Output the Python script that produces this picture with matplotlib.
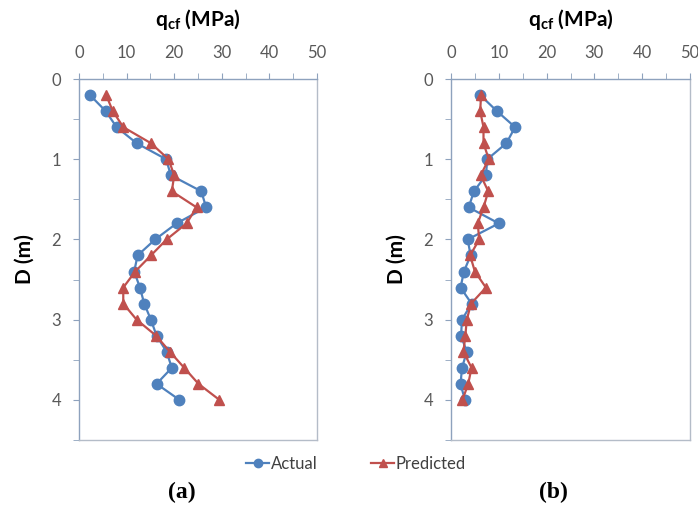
import numpy as np
import matplotlib
matplotlib.use("Agg")
from matplotlib import pyplot as plt
from matplotlib.ticker import MultipleLocator

plt.rcParams['font.family'] = ['Lato', 'DejaVu Sans']
plt.rcParams['mathtext.fontset'] = 'custom'
plt.rcParams['mathtext.rm'] = 'Lato:bold'
plt.rcParams['mathtext.bf'] = 'Lato:bold'
plt.rcParams['mathtext.default'] = 'bf'

# depth (m)
depth = [0.2, 0.4, 0.6, 0.8, 1.0, 1.2, 1.4, 1.6, 1.8, 2.0,
         2.2, 2.4, 2.6, 2.8, 3.0, 3.2, 3.4, 3.6, 3.8, 4.0]

# panel (a)
actual_a = [2.3, 5.6, 7.9, 12.1, 18.3, 19.3, 25.7, 26.7, 20.5, 16.0,
            12.3, 11.6, 12.8, 13.7, 15.1, 16.3, 18.4, 19.5, 16.3, 21.1]
pred_a = [5.7, 7.1, 9.3, 15.1, 18.8, 20.0, 19.5, 24.7, 22.6, 18.4,
          15.1, 11.8, 9.3, 9.3, 12.1, 16.2, 19.1, 22.1, 25.1, 29.5]

# panel (b)
actual_b = [6.1, 9.6, 13.4, 11.6, 7.6, 7.3, 4.8, 3.7, 10.0, 3.5,
            4.1, 2.7, 2.0, 4.3, 2.3, 2.1, 3.3, 2.3, 2.0, 2.9]
pred_b = [6.3, 6.1, 6.8, 6.8, 7.9, 6.2, 7.8, 6.8, 5.6, 5.9,
          4.0, 5.0, 7.3, 4.2, 3.3, 3.0, 2.6, 4.3, 3.6, 2.4]

blue = '#4f81bd'
red = '#c0504d'
tick_col = '#595959'
spine_col = '#8ea2bd'

fig = plt.figure(figsize=(6.98, 5.09), dpi=100)
ax_a = fig.add_axes([79/698, 1-440/509, 238/698, 361/509])
ax_b = fig.add_axes([451/698, 1-440/509, 239/698, 361/509])

for ax, act, pre, tag in [(ax_a, actual_a, pred_a, '(a)'), (ax_b, actual_b, pred_b, '(b)')]:
    ax.plot(act, depth, '-o', color=blue, lw=1.6, ms=7.5, label='Actual')
    ax.plot(pre, depth, '-^', color=red, lw=1.6, ms=7.5, label='Predicted')
    ax.set_xlim(0, 50)
    ax.set_ylim(4.5, 0)
    ax.xaxis.tick_top()
    ax.xaxis.set_label_position('top')
    ax.xaxis.set_major_locator(MultipleLocator(10))
    ax.xaxis.set_minor_locator(MultipleLocator(5))
    ax.yaxis.set_major_locator(MultipleLocator(1))
    ax.yaxis.set_minor_locator(MultipleLocator(0.5))
    ax.tick_params(which='both', direction='out', length=4, color=spine_col,
                   labelcolor=tick_col, labelsize=12, pad=9)
    for s in ax.spines.values():
        s.set_color('#b4bcc8')
        s.set_linewidth(1.0)
    ax.spines['top'].set_color(spine_col)
    ax.spines['left'].set_color(spine_col)
    ax.set_xlabel('q$_{cf}$ (MPa)', fontsize=15, fontweight='bold', labelpad=14)
    ax.set_ylabel('D (m)', fontsize=15, fontweight='bold', labelpad=12)
    ax.text(0.43, -0.145, tag, transform=ax.transAxes, ha='center', va='center',
            fontsize=17, fontweight='bold', family='Liberation Serif')

handles, labels = ax_a.get_legend_handles_labels()
fig.legend(handles, labels, loc='center', bbox_to_anchor=(0.51, 0.088), ncol=2,
           frameon=False, fontsize=12, handlelength=1.4, handletextpad=0.1,
           columnspacing=3.2, markerscale=0.8, labelcolor='#404040')

fig.savefig('out.png', dpi=100)
